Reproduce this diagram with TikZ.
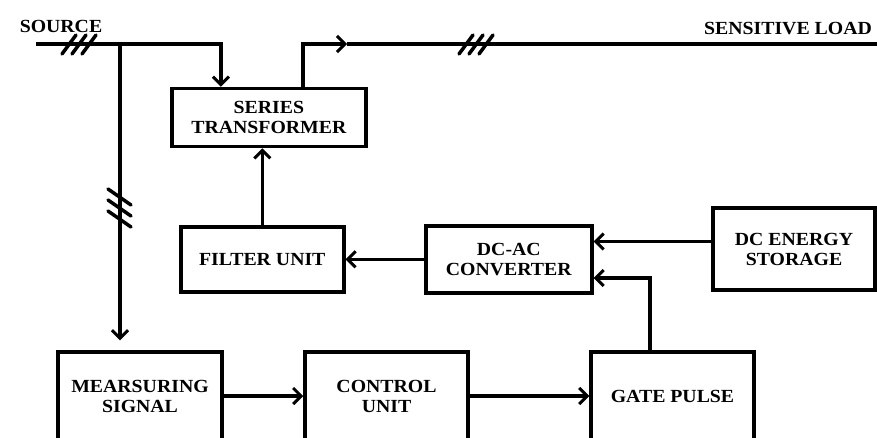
\documentclass[tikz,border=0pt]{standalone}
\usepackage{fontspec}
\setmainfont{Liberation Serif}[FakeStretch=1.07]
\usetikzlibrary{arrows.meta}
\tikzset{
  blk/.style={draw, line width=3.5pt, align=center, inner sep=0pt, font=\bfseries\fontsize{18.5}{20}\selectfont},
  lbl/.style={inner sep=0pt, font=\bfseries\fontsize{18.5}{20}\selectfont},
  wire/.style={line width=3.3pt},
  arr/.style={wire, -{Straight Barb[length=8pt,width=16pt,line width=3pt]}},
  slash/.style={line width=3.5pt, line cap=round}
}
\begin{document}
\begin{tikzpicture}[x=1pt,y=-1pt]
\useasboundingbox (0,0) rectangle (877,437);
\clip (0,0) rectangle (877,437);
% boxes
\node[blk, minimum width=194pt, minimum height=58pt] (st) at (268.9,117.5) {SERIES\\TRANSFORMER};
\node[blk, minimum width=163pt, minimum height=65pt] (fu) at (262.3,259.3) {FILTER UNIT};
\node[blk, minimum width=166pt, minimum height=67pt] (dc) at (508.8,259.3) {DC-AC\\CONVERTER};
\node[blk, minimum width=162pt, minimum height=82pt] (es) at (794,249) {DC ENERGY\\STORAGE};
\node[blk, minimum width=164pt, minimum height=88pt] (ms) at (140,396) {MEARSURING\\SIGNAL};
\node[blk, minimum width=163pt, minimum height=88pt] (cu) at (386.5,396) {CONTROL\\UNIT};
\node[blk, minimum width=163pt, minimum height=88pt] (gp) at (672.5,396) {GATE PULSE};
% labels
\node[lbl] (srclbl) at (61,26) {SOURCE};
\node[lbl] (loadlbl) at (788,28.5) {SENSITIVE LOAD};
% coordinates
\coordinate (srcL) at (36,44);
\coordinate (jn) at (120,44);
\coordinate (mid) at (347,44);
\coordinate (loadR) at (880,44);
% connectors
\draw[arr] (srcL) -| ([xshift=-48pt]st.north);
\draw[arr] (jn) -- ([xshift=-20pt,yshift=10pt]ms.north);
\draw[arr] ([xshift=34pt]st.north) |- (mid);
\draw[wire] (mid) -- (loadR);
\draw[arr] (fu.north) -- (fu.north |- st.south);
\draw[arr] (dc.west) -- (fu.east);
\draw[arr] ([yshift=7.5pt]es.west) -- ([yshift=7.5pt]es.west -| dc.east);
\draw[arr] ([xshift=-22.5pt]gp.north) |- ([yshift=-18.7pt]dc.east);
\draw[arr] (ms.east) -- (cu.west);
\draw[arr] (cu.east) -- (gp.west);
% triple slash marks
\foreach \cx in {69,79,89} \draw[slash] (\cx-7,54) -- (\cx+7,35);
\foreach \cx in {466,476,486} \draw[slash] (\cx-7,54) -- (\cx+7,35);
\foreach \cy in {197,208,219} \draw[slash] (108,\cy-8) -- (131,\cy+8);
\end{tikzpicture}
\end{document}
